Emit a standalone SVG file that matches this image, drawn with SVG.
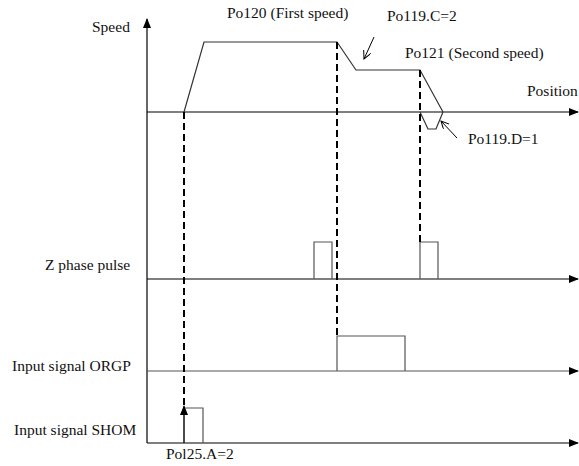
<svg xmlns="http://www.w3.org/2000/svg" width="579" height="466" viewBox="0 0 579 466">
<style>
.lb text{font-family:'Liberation Serif','DejaVu Serif',serif;font-size:15.5px;fill:#111}
.ax{stroke:#000;stroke-width:1.2;fill:none}
.pr{stroke:#333;stroke-width:1.2;fill:none}
.pu{stroke:#555;stroke-width:1.2;fill:none}
.da{stroke:#000;stroke-width:2;stroke-dasharray:7,4;fill:none}
.th{stroke:#000;stroke-width:1;fill:none}
</style>
<defs>
<marker id="ah" markerWidth="10" markerHeight="8" refX="9" refY="4" orient="auto" markerUnits="userSpaceOnUse">
<path d="M0,0 L10,4 L0,8 Z" fill="#000"/>
</marker>
<marker id="oh" markerWidth="9" markerHeight="8" refX="8" refY="4" orient="auto" markerUnits="userSpaceOnUse">
<path d="M0,0 L8,4 L0,8" fill="none" stroke="#000" stroke-width="1"/>
</marker>
</defs>
<g id="axes">
<line class="ax" x1="147" y1="443" x2="147" y2="19" marker-end="url(#ah)"/>
<line class="ax" x1="147" y1="112" x2="578" y2="112" marker-end="url(#ah)"/>
<line class="ax" x1="147" y1="279" x2="578" y2="279" marker-end="url(#ah)"/>
<line class="pu" x1="147" y1="371" x2="578" y2="371" marker-end="url(#ah)"/>
<line class="ax" x1="147" y1="443" x2="578" y2="443" marker-end="url(#ah)"/>
</g>
<g id="speed-profile">
<polyline class="pr" points="184,112 204,42 337,42 356,70 420,70 443,112"/>
<polyline class="pr" points="420,112 428,129 436,129 443,112"/>
</g>
<g id="z-pulses">
<polyline class="pu" points="314,279 314,242 332,242 332,279"/>
<polyline class="pu" points="420,279 420,242 438,242 438,279"/>
</g>
<g id="orgp-pulse">
<polyline class="pu" points="337,371 337,336 405,336 405,371"/>
</g>
<g id="shom-pulse">
<polyline class="pu" points="184,443 184,408 203,408 203,443"/>
</g>
<g id="connectors">
<line class="da" x1="184" y1="112" x2="184" y2="405"/>
<line class="da" x1="337" y1="42" x2="337" y2="336"/>
<line class="da" x1="420" y1="70" x2="420" y2="242"/>
<line class="th" x1="184" y1="443" x2="184" y2="406" marker-end="url(#ah)"/>
<line class="th" x1="374" y1="37" x2="364" y2="59" marker-end="url(#oh)"/>
<line class="th" x1="457" y1="138" x2="441" y2="121" marker-end="url(#oh)"/>
</g>
<g id="labels" class="lb" font-family="Liberation Serif, DejaVu Serif, serif">
<text x="92" y="32">Speed</text>
<text x="227" y="18">Po120 (First speed)</text>
<text x="387" y="21">Po119.C=2</text>
<text x="405" y="58">Po121 (Second speed)</text>
<text x="527" y="96">Position</text>
<text x="468" y="144">Po119.D=1</text>
<text x="45" y="270">Z phase pulse</text>
<text x="12" y="371">Input signal ORGP</text>
<text x="14" y="435">Input signal SHOM</text>
<text x="166" y="459">Pol25.A=2</text>
</g>
</svg>
